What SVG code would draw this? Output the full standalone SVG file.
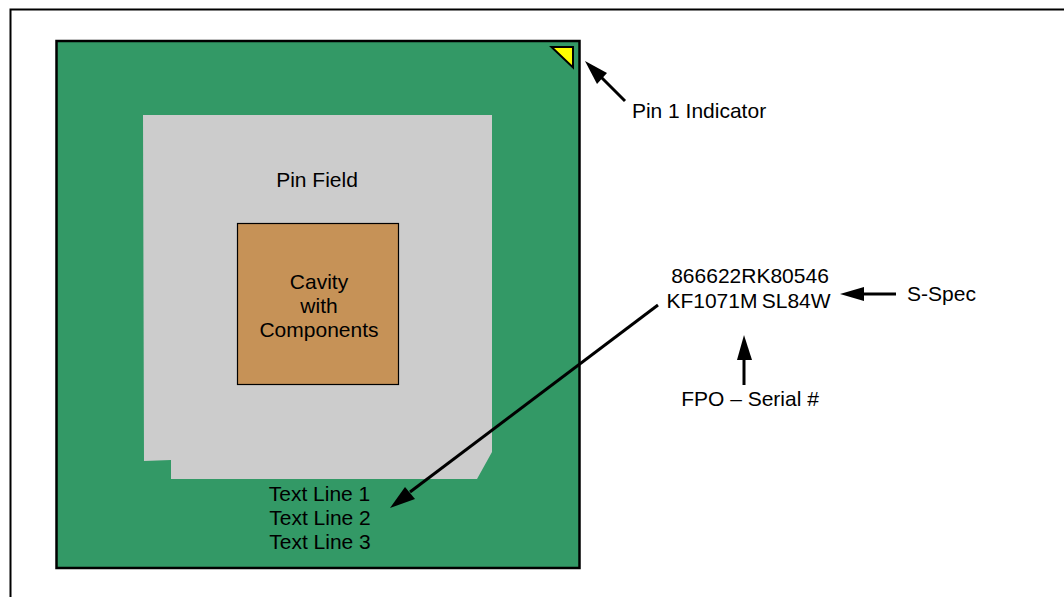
<svg xmlns="http://www.w3.org/2000/svg" width="1064" height="597" viewBox="0 0 1064 597">
<style>
text{font-family:"Liberation Sans",Arial,sans-serif;font-size:21px;fill:#000;text-anchor:middle}
.ln{stroke:#000;stroke-width:3;fill:none}
.hd{fill:#000;stroke:none}
</style>
<rect width="1064" height="597" fill="#fff"/>
<path d="M10.5 597V9.5H1064" fill="none" stroke="#000" stroke-width="2"/>
<g id="package"><rect x="56.5" y="41" width="523" height="527" fill="#339966" stroke="#000" stroke-width="2.5"/></g>
<g id="pin-field">
<polygon points="143,115 492,115 492,452 477,479 171,479 171,460 144,461" fill="#cccccc"/>
<text x="317" y="187">Pin Field</text>
</g>
<g id="cavity">
<rect x="237.500" y="223.500" width="161" height="161" fill="#c69257" stroke="#000" stroke-width="1.200"/>
<text x="319" y="289">Cavity</text>
<text x="319" y="313">with</text>
<text x="319" y="337">Components</text>
</g>
<g id="pin1-indicator"><polygon points="551.500,47 573,47 573,67.500" fill="#ffff00" stroke="#000" stroke-width="2"/></g>
<g id="text-lines">
<text x="319.500" y="501">Text Line 1</text>
<text x="320" y="525">Text Line 2</text>
<text x="320" y="549">Text Line 3</text>
</g>
<g id="label-pin1"><text x="699" y="118">Pin 1 Indicator</text></g>
<g id="label-code">
<text x="750" y="283">866622RK80546</text>
<text x="748.500" y="308" word-spacing="-1.500">KF1071M SL84W</text>
</g>
<g id="label-sspec"><text x="941.500" y="301">S-Spec</text></g>
<g id="label-fpo"><text x="750" y="406">FPO – Serial #</text></g>
<g id="connectors">
<path class="ln" d="M625 101L601 77"/>
<polygon class="hd" points="585,61 607,73 597,84"/>
<path class="ln" d="M658 305L410 492"/>
<polygon class="hd" points="390,508 405,487 415,499"/>
<path class="ln" d="M896 294H862"/>
<polygon class="hd" points="840,294 864,287 864,301"/>
<path class="ln" d="M744 385V358"/>
<polygon class="hd" points="744,335 752,360 737,360"/>
</g>
</svg>
